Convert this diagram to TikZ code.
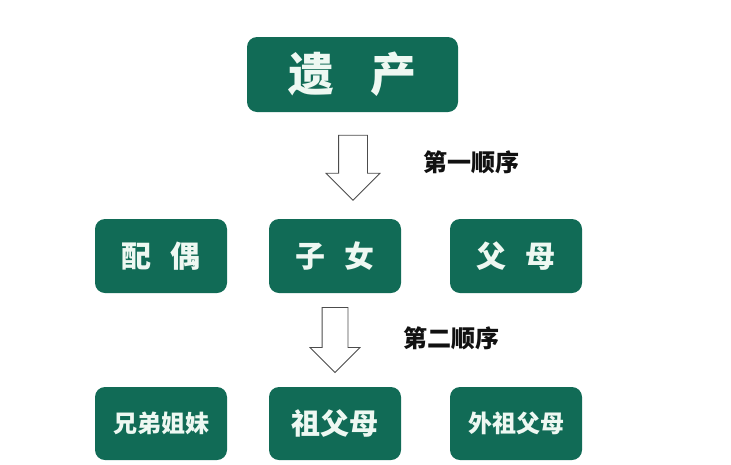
\documentclass[tikz,border=0pt]{standalone}
\usepackage{fontspec}
\setmainfont{Noto Sans CJK SC}
\usetikzlibrary{shapes.arrows, positioning}
\definecolor{BoxGreen}{HTML}{116B56}
\definecolor{BoxText}{HTML}{EEF8F2}
\definecolor{LabelDark}{HTML}{111111}

\begin{document}
\begin{tikzpicture}[
        x=1pt, y=-1pt,
        heir/.style={rectangle, fill=BoxGreen, rounded corners=10pt, minimum width=132pt, minimum height=74pt, align=center, font=\bfseries, text=BoxText, inner sep=0pt},
        order/.style={single arrow, draw=black!70, fill=white, line width=0.8pt, rotate=-90, minimum height=65pt, single arrow head extend=12.5pt, single arrow tip angle=90, inner xsep=0pt},
        stage/.style={font=\fontsize{24}{26}\selectfont\bfseries, text=LabelDark, inner sep=0pt}
      ]
        \useasboundingbox (0,0) rectangle (731,464);
        % estate at the top
        \node[heir, minimum width=211pt, minimum height=75pt, font=\fontsize{46}{48}\selectfont\bfseries] (estate) at (352.5,74.5) {遗\hspace{0.8em}产};

        % first order heirs
        \node[heir, font=\fontsize{30}{32}\selectfont\bfseries] (spouse) at (161,256) {配\hspace{0.65em}偶};
        \node[heir, font=\fontsize{30}{32}\selectfont\bfseries] (children) at (335,256) {子\hspace{0.65em}女};
        \node[heir, font=\fontsize{30}{32}\selectfont\bfseries] (parents) at (516,256) {父\hspace{0.65em}母};

        % second order heirs
        \node[heir, minimum height=73pt, font=\fontsize{24}{26}\selectfont\bfseries] (siblings) at (161,423.5) {兄弟姐妹};
        \node[heir, minimum height=73pt, font=\fontsize{29}{31}\selectfont\bfseries] (grandpa) at (335,423.5) {祖父母};
        \node[heir, minimum height=73pt, font=\fontsize{24}{26}\selectfont\bfseries] (maternal) at (516,423.5) {外祖父母};

        % hollow arrows with order labels
        \node[order, inner ysep=14pt] (first) at (353,160.5) {};
        \node[order, inner ysep=12.5pt, single arrow head extend=12pt] (second) at (335,333.5) {};
        \node[stage] (firstlbl) at (471,162) {第一顺序};
        \node[stage] (secondlbl) at (451,338) {第二顺序};
      \end{tikzpicture}
\end{document}
